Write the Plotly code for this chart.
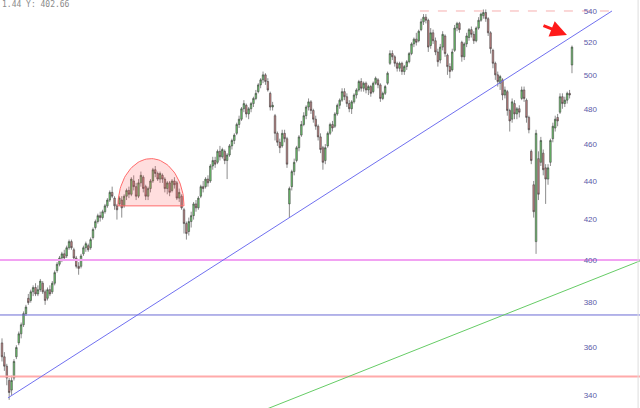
import math
import numpy as np
import plotly.graph_objects as go

# ---- candle data ----
opens = [
    362,356,352,346,342,347,356,362,366,370,
    375,382,381,385,387,384,386,389,385,382,
    386,385,389,395,398,401,403,402,406,409,
    405,401,397,397,403,406,407,406,411,416,
    419,422,421,424,427,430,434,431,427,428,
    430,427,432,435,433,440,437,432,439,442,
    437,432,436,440,446,444,441,443,441,436,
    439,435,440,439,431,432,425,418,414,419,
    422,428,426,432,437,437,441,440,448,451,
    450,456,453,456,451,454,459,462,466,471,
    474,480,482,477,480,483,486,490,494,497,
    500,496,489,481,476,466,461,459,466,463,
    428,437,445,451,458,465,471,476,481,484,
    479,474,470,464,458,451,459,466,471,470,
    477,482,485,490,487,483,480,484,488,491,
    496,492,495,491,493,490,495,497,494,486,
    489,495,507,513,511,507,504,507,502,505,
    508,513,519,522,521,528,533,536,534,518,
    526,521,514,509,517,524,512,505,503,515,
    529,532,520,511,519,523,528,525,521,529,
    534,537,539,535,526,515,507,500,495,497,
    488,490,479,474,483,477,480,486,491,485,
    475,456,438,409,452,450,455,447,441,450,
    463,469,475,478,487,483,485,489,506,
]
highs = [
    364,358,353,347,348,355,361,367,371,376,
    379,384,386,388,389,388,391,390,386,387,
    388,390,395,399,402,404,405,407,410,410,
    406,402,399,403,407,409,408,411,416,420,
    423,424,425,428,431,435,437,432,428,432,
    432,433,436,437,442,443,439,441,445,443,
    438,437,441,447,448,445,445,444,442,440,
    440,441,442,440,436,433,426,419,421,424,
    429,430,432,438,440,442,443,449,453,453,
    457,459,458,457,455,460,463,466,472,476,
    481,485,483,481,484,487,491,495,498,502,
    501,498,490,484,477,467,463,468,468,464,
    437,446,452,459,465,473,478,482,486,485,
    480,476,471,466,459,460,467,472,473,478,
    483,486,492,492,489,485,485,489,492,497,
    498,496,496,494,494,496,499,498,495,490,
    494,502,515,515,512,508,508,508,506,509,
    514,520,523,526,528,535,538,538,535,529,
    528,523,516,519,527,525,513,507,516,531,
    533,533,521,520,526,529,530,527,530,536,
    539,541,541,536,527,516,508,502,500,498,
    493,491,480,486,485,481,482,493,493,486,
    476,457,440,468,456,464,457,449,449,463,
    472,476,477,489,489,487,490,491,518,
]
lows = [
    354,350,344,338,340,346,355,361,364,369,
    374,379,380,383,383,383,385,384,379,381,
    383,384,388,394,397,399,400,401,405,405,
    400,396,393,396,402,404,404,405,410,415,
    418,419,420,423,426,429,431,425,420,427,
    421,426,430,431,432,435,430,431,437,434,
    430,430,434,439,442,440,439,439,434,433,
    432,434,436,430,429,425,413,410,412,416,
    420,424,425,431,434,436,437,439,446,447,
    449,451,452,449,441,453,457,460,465,469,
    473,478,475,474,478,481,485,489,492,495,
    494,490,479,479,462,459,455,458,461,447,
    421,435,443,450,456,464,470,474,479,477,
    472,468,462,455,446,449,458,465,467,469,
    476,480,484,485,481,478,477,483,486,490,
    490,490,489,488,487,489,494,492,484,485,
    488,494,506,509,505,502,502,500,500,503,
    507,512,517,518,520,527,531,532,514,516,
    519,512,505,507,515,511,500,498,502,514,
    527,526,508,509,517,521,523,519,520,528,
    533,535,533,524,513,504,497,493,491,485,
    486,476,467,472,474,474,475,485,484,472,
    466,449,421,403,430,448,443,428,438,448,
    461,467,470,477,480,481,483,486,501,
]
closes = [
    356,352,347,341,346,354,360,366,370,375,
    378,380,385,387,384,386,390,385,381,386,
    384,389,394,398,401,403,401,406,409,406,
    401,397,396,402,406,408,405,410,415,419,
    422,421,424,427,430,434,432,427,425,431,
    426,432,435,433,441,437,432,439,443,436,
    432,436,440,446,444,441,444,441,436,439,
    434,440,438,431,434,426,418,413,419,422,
    428,426,431,437,436,441,439,448,451,449,
    456,453,457,451,454,459,462,465,471,474,
    480,483,477,480,483,486,489,494,497,500,
    496,491,481,482,466,461,458,466,463,449,
    436,445,450,458,464,471,476,481,484,479,
    474,470,464,457,450,458,466,471,469,477,
    482,485,490,487,483,480,484,488,491,496,
    492,495,491,493,489,495,498,494,486,489,
    493,501,513,511,507,504,507,502,505,508,
    513,519,522,520,527,533,536,534,517,526,
    521,514,508,517,525,513,505,502,514,529,
    532,528,511,519,524,528,525,521,529,534,
    538,539,535,526,516,507,500,496,499,488,
    491,479,473,484,477,480,478,491,486,475,
    468,451,424,466,433,462,446,441,447,462,
    470,474,473,487,483,485,489,488,517,
]
x = list(range(len(closes)))

# axis
tick_values = [340, 360, 380, 400, 420, 440, 460, 480, 500, 520, 540]
y_min, y_max = 334.7, 547.2
x_min, x_max = -0.835, 266.4

# drawn levels / annotations (chart values)
support_level = 400
mid_level = 374.4
low_level = 347.6
peak_level = 540
peak_span = (174.5, 254.7)
trend_blue = ([2.5, 254.7], [338.8, 540])
trend_green = ([107.7, 266.4], [333.2, 399.6])
dome_center, dome_half, dome_base, dome_top = 62.2, 13.8, 427, 452
arrow_x, arrow_y = 235.9, 524.6
readout = "1.44 Y: 402.66"

fig = go.Figure()

# horizontal levels
fig.add_trace(go.Scatter(x=[x_min, x_max], y=[support_level]*2, mode="lines",
                         line=dict(color="#f2a2f2", width=2), hoverinfo="skip"))
fig.add_trace(go.Scatter(x=[x_min, x_max], y=[mid_level]*2, mode="lines",
                         line=dict(color="#6a6ad4", width=1), hoverinfo="skip"))
fig.add_trace(go.Scatter(x=[x_min, x_max], y=[low_level]*2, mode="lines",
                         line=dict(color="#ffaaaa", width=2), hoverinfo="skip"))
fig.add_trace(go.Scatter(x=list(peak_span), y=[peak_level]*2, mode="lines",
                         line=dict(color="#f6b0b0", width=1, dash="dash"), hoverinfo="skip"))
# trend lines
fig.add_trace(go.Scatter(x=trend_blue[0], y=trend_blue[1], mode="lines",
                         line=dict(color="#7070f0", width=1), hoverinfo="skip"))
fig.add_trace(go.Scatter(x=trend_green[0], y=trend_green[1], mode="lines",
                         line=dict(color="#66cc66", width=1), hoverinfo="skip"))

# dome (half ellipse in screen space)
t = np.linspace(0, math.pi, 60)
lb, lt = math.log10(dome_base), math.log10(dome_top)
dx = dome_center + dome_half * np.cos(t)
dy = 10 ** (lb + (lt - lb) * np.sin(t))
fig.add_trace(go.Scatter(x=list(dx) + [dx[0]], y=list(dy) + [dy[0]], mode="lines",
                         fill="toself", fillcolor="rgba(255,90,90,0.2)",
                         line=dict(color="#ff6a6a", width=1), hoverinfo="skip"))

fig.add_trace(go.Candlestick(
    x=x, open=opens, high=highs, low=lows, close=closes,
    increasing=dict(fillcolor="#6fcf6f", line=dict(color="#404040", width=0.6)),
    decreasing=dict(fillcolor="#c98585", line=dict(color="#404040", width=0.6)),
    whiskerwidth=0, hoverinfo="skip"))

fig.add_annotation(x=arrow_x, y=math.log10(arrow_y), xref="x", yref="y",
                   ax=-25, ay=-10, text="", showarrow=True,
                   arrowhead=2, arrowsize=1.1, arrowwidth=3, arrowcolor="#ff1a1a")
fig.add_annotation(x=0, y=1, xref="paper", yref="paper", xanchor="left", yanchor="top",
                   text=readout, showarrow=False, yshift=2,
                   font=dict(family="DejaVu Sans Mono", size=8, color="#8a8a8a"))

fig.add_shape(type="line", xref="paper", yref="paper", x0=0.997, x1=0.997, y0=0, y1=1,
              line=dict(color="#dddddd", width=1))

fig.update_layout(
    width=640, height=408, margin=dict(l=0, r=0, t=0, b=0),
    paper_bgcolor="white", plot_bgcolor="white", showlegend=False,
    hovermode=False, boxgap=0.08,
    xaxis=dict(range=[x_min, x_max], rangeslider=dict(visible=False), showgrid=False,
               zeroline=False, showticklabels=False, ticks="", showline=False),
    yaxis=dict(type="log", range=[math.log10(y_min), math.log10(y_max)], side="right",
               tickvals=tick_values, ticktext=[str(v) for v in tick_values],
               ticklabelposition="inside", ticklabelstandoff=40, ticks="",
               tickfont=dict(family="Liberation Sans", size=8, color="#5a5aa8"),
               showgrid=False, zeroline=False, showline=False),
)

fig.write_html("out.html", config={"displayModeBar": False},
               post_script="document.body.style.margin='0';document.body.style.overflow='hidden';")
